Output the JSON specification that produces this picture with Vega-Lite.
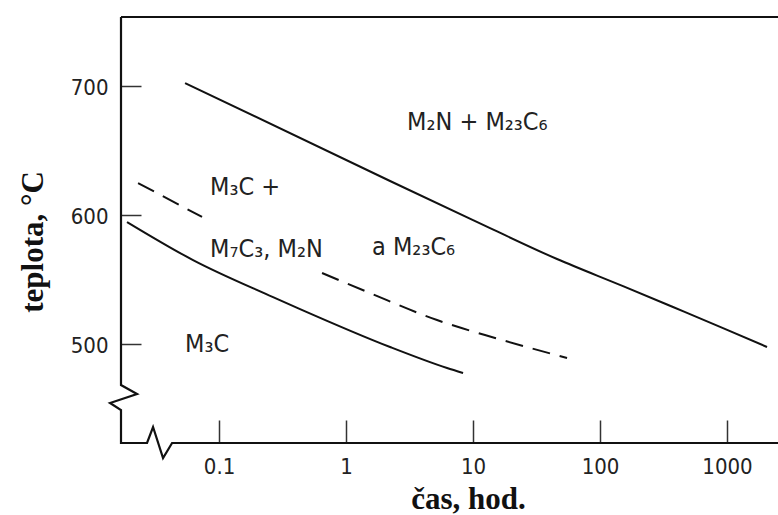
{
  "$schema": "https://vega.github.io/schema/vega-lite/v6.json",
  "width": 657,
  "height": 426,
  "autosize": "none",
  "padding": {"left": 121, "top": 17, "right": 0, "bottom": 72},
  "background": "white",
  "config": {"view": {"stroke": null}, "font": "DejaVu Sans Condensed"},
  "datasets": {
    "frame": [
      {"part": "lb", "i": 1, "t": 0.0169, "T": 753.1},
      {"part": "lb", "i": 2, "t": 0.0169, "T": 467.8},
      {"part": "lb", "i": 3, "t": 0.02261, "T": 460.9},
      {"part": "lb", "i": 4, "t": 0.01386, "T": 453.9},
      {"part": "lb", "i": 5, "t": 0.0169, "T": 448.4},
      {"part": "lb", "i": 6, "t": 0.0169, "T": 422.9},
      {"part": "lb", "i": 7, "t": 0.0271, "T": 422.9},
      {"part": "lb", "i": 8, "t": 0.03022, "T": 435.3},
      {"part": "lb", "i": 9, "t": 0.03622, "T": 411.2},
      {"part": "lb", "i": 10, "t": 0.04266, "T": 422.9},
      {"part": "lb", "i": 11, "t": 2520, "T": 422.9},
      {"part": "top", "i": 1, "t": 0.0169, "T": 753.1},
      {"part": "top", "i": 2, "t": 2520, "T": 753.1}
    ],
    "curves": [
      {"curve": "A", "seg": "A", "t": 0.054, "T": 701.9},
      {"curve": "A", "seg": "A", "t": 2.221, "T": 626.0},
      {"curve": "A", "seg": "A", "t": 10.0, "T": 595.7},
      {"curve": "A", "seg": "A", "t": 45.86, "T": 565.5},
      {"curve": "A", "seg": "A", "t": 151.7, "T": 544.5},
      {"curve": "A", "seg": "A", "t": 375.6, "T": 528.3},
      {"curve": "A", "seg": "A", "t": 930, "T": 512.0},
      {"curve": "A", "seg": "A", "t": 2065, "T": 497.3},
      {"curve": "B", "seg": "B", "t": 0.01886, "T": 594.2},
      {"curve": "B", "seg": "B", "t": 0.06241, "T": 564.7},
      {"curve": "B", "seg": "B", "t": 0.2662, "T": 536.0},
      {"curve": "B", "seg": "B", "t": 0.4343, "T": 526.7},
      {"curve": "B", "seg": "B", "t": 2.221, "T": 497.3},
      {"curve": "B", "seg": "B", "t": 6.243, "T": 481.0},
      {"curve": "B", "seg": "B", "t": 8.345, "T": 477.1},
      {"curve": "C", "seg": "C1", "t": 0.02303, "T": 624.4},
      {"curve": "C", "seg": "C1", "t": 0.07346, "T": 598.1},
      {"curve": "C", "seg": "C2", "t": 0.6471, "T": 554.7},
      {"curve": "C", "seg": "C2", "t": 1.545, "T": 539.1},
      {"curve": "C", "seg": "C2", "t": 5.205, "T": 518.2},
      {"curve": "C", "seg": "C2", "t": 14.9, "T": 504.3},
      {"curve": "C", "seg": "C2", "t": 54.98, "T": 488.8}
    ],
    "labels": [
      {"text": "M₃C +", "t": 0.08494, "T": 615.1},
      {"text": "M₇C₃, M₂N", "t": 0.08494, "T": 567.1},
      {"text": "a M₂₃C₆", "t": 1.602, "T": 568.6},
      {"text": "M₂N + M₂₃C₆", "t": 3.022, "T": 665.5},
      {"text": "M₃C", "t": 0.054, "T": 493.4}
    ]
  },
  "encoding": {
    "x": {
      "field": "t",
      "type": "quantitative",
      "scale": {"type": "log", "domain": [0.0169, 2520], "nice": false},
      "axis": {
        "values": [0.1, 1, 10, 100, 1000],
        "format": "~g",
        "grid": false,
        "domain": false,
        "tickSize": -23,
        "tickColor": "#333",
        "tickWidth": 1.5,
        "labelPadding": 53,
        "labelBaseline": "alphabetic",
        "labelFont": "DejaVu Sans Condensed",
        "labelFontSize": 22,
        "labelColor": "#222",
        "labelFlush": false,
        "labelOverlap": false,
        "title": "čas, hod.",
        "titleFont": "Liberation Serif",
        "titleFontSize": 31,
        "titleFontWeight": "bold",
        "titleColor": "#111",
        "titleX": 347,
        "titleY": 65,
        "titleAlign": "center",
        "titleBaseline": "alphabetic"
      }
    },
    "y": {
      "field": "T",
      "type": "quantitative",
      "scale": {"domain": [422.9, 753.1], "nice": false, "zero": false},
      "axis": {
        "values": [500, 600, 700],
        "format": "d",
        "grid": false,
        "domain": false,
        "tickSize": -20,
        "tickColor": "#333",
        "tickWidth": 1.5,
        "labelPadding": 33,
        "labelOffset": 2,
        "labelFont": "DejaVu Sans Condensed",
        "labelFontSize": 22,
        "labelColor": "#222",
        "labelFlush": false,
        "labelOverlap": false,
        "title": "teplota, °C",
        "titleFont": "Liberation Serif",
        "titleFontSize": 31,
        "titleFontWeight": "bold",
        "titleColor": "#111",
        "titleX": -79,
        "titleY": 224.5,
        "titleAngle": -90,
        "titleAlign": "center",
        "titleBaseline": "alphabetic"
      }
    }
  },
  "layer": [
    {
      "data": {"name": "frame"},
      "mark": {"type": "line", "clip": false, "stroke": "#111", "strokeWidth": 2.2, "strokeJoin": "miter"},
      "encoding": {"detail": {"field": "part"}, "order": {"field": "i", "type": "quantitative"}}
    },
    {
      "data": {"name": "curves"},
      "transform": [{"filter": "datum.curve != 'C'"}],
      "mark": {"type": "line", "stroke": "#111", "strokeWidth": 2, "interpolate": "monotone"},
      "encoding": {"detail": {"field": "seg"}}
    },
    {
      "data": {"name": "curves"},
      "transform": [{"filter": "datum.curve == 'C'"}],
      "mark": {"type": "line", "stroke": "#111", "strokeWidth": 2, "strokeDash": [18, 10], "interpolate": "monotone"},
      "encoding": {"detail": {"field": "seg"}}
    },
    {
      "data": {"name": "labels"},
      "mark": {"type": "text", "align": "left", "baseline": "alphabetic", "font": "DejaVu Sans Condensed", "fontSize": 25, "color": "#222"},
      "encoding": {"text": {"field": "text"}}
    }
  ]
}
